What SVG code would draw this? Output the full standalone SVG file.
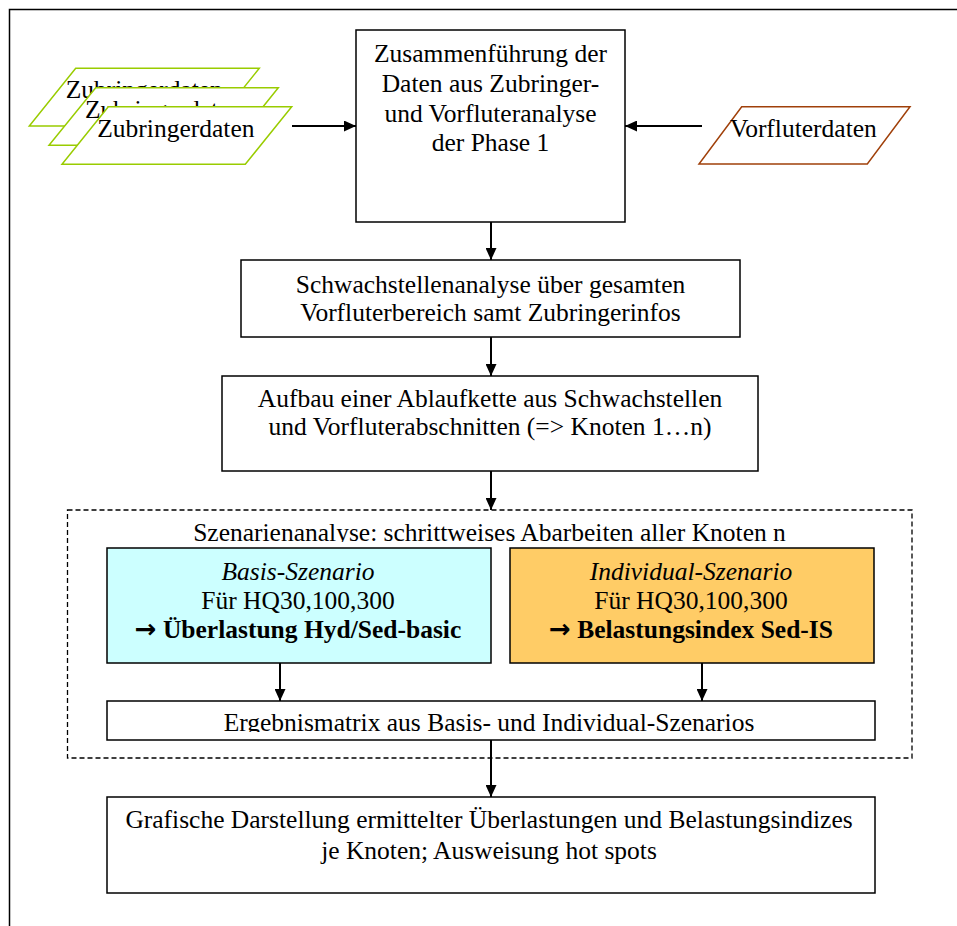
<svg xmlns="http://www.w3.org/2000/svg" width="957" height="926" viewBox="0 0 957 926">
<style>
  text { font-family: "Liberation Serif", "Times New Roman", serif; font-size: 25.5px; fill: #000; }
  .c { text-anchor: middle; }
  .box { fill: #fff; stroke: #000; stroke-width: 1.5; }
  .zub { fill: #fff; stroke: #99CC00; stroke-width: 1.5; }
  .vor { fill: #fff; stroke: #A0400A; stroke-width: 1.5; }
  .conn line { stroke: #000; stroke-width: 2; marker-end: url(#arr); }
  .it { font-style: italic; }
  .b { font-weight: bold; }
  .ar { font-family: "DejaVu Sans", sans-serif; font-weight: bold; font-size: 26px; }
</style>
<defs>
  <marker id="arr" markerUnits="userSpaceOnUse" markerWidth="12" markerHeight="11" refX="12" refY="5.5" orient="auto">
    <path d="M0,0 L12,5.5 L0,11 z" fill="#000"/>
  </marker>
  <clipPath id="clipErg"><rect x="107" y="701" width="768" height="31"/></clipPath>
  <clipPath id="clipSz"><rect x="67" y="510" width="845" height="32"/></clipPath>
</defs>
<rect width="957" height="926" fill="#fff"/>
<g id="frame">
  <path d="M9.5,926 L9.5,9.5 L957,9.5" fill="none" stroke="#000" stroke-width="1.5"/>
</g>
<g id="zubringer">
  <polygon class="zub" points="75.7,68.3 259.3,68.3 213,126 29.3,126"/>
  <text x="65.7" y="98.3" font-size="24.5">Zubringerdaten</text>
  <polygon class="zub" points="95.7,87.7 278.3,87.7 232,145.3 49,145.3"/>
  <text x="85" y="118.3" font-size="24.5">Zubringerdaten</text>
  <polygon class="zub" points="108.3,106.7 291.7,106.7 245.3,164.3 62,164.3"/>
  <text x="97.3" y="136.7" font-size="24.5">Zubringerdaten</text>
</g>
<g id="vorfluter">
  <polygon class="vor" points="741.7,106.7 910,106.7 867.3,164 699,164"/>
  <text x="730" y="137.3">Vorfluterdaten</text>
</g>
<g id="zusammen">
  <rect class="box" x="356" y="30" width="269" height="192"/>
  <text class="c" x="490.5" y="62">Zusammenführung der</text>
  <text class="c" x="490.5" y="92">Daten aus Zubringer-</text>
  <text class="c" x="490.5" y="121.5">und Vorfluteranalyse</text>
  <text class="c" x="490.5" y="151">der Phase 1</text>
</g>
<g id="schwach">
  <rect class="box" x="241" y="260" width="499" height="77"/>
  <text class="c" x="490.5" y="292.5">Schwachstellenanalyse über gesamten</text>
  <text class="c" x="490.5" y="321">Vorfluterbereich samt Zubringerinfos</text>
</g>
<g id="ablauf">
  <rect class="box" x="222" y="376" width="536" height="95"/>
  <text class="c" x="490" y="406.5">Aufbau einer Ablaufkette aus Schwachstellen</text>
  <text class="c" x="490" y="434.5">und Vorfluterabschnitten (=&gt; Knoten 1…n)</text>
</g>
<g id="szenarien">
  <rect x="67.5" y="510" width="844.5" height="248" fill="none" stroke="#000" stroke-width="1.3" stroke-dasharray="5,3"/>
  <text class="c" x="489.5" y="540.7" clip-path="url(#clipSz)">Szenarienanalyse: schrittweises Abarbeiten aller Knoten n</text>
</g>
<g id="basis">
  <rect x="107" y="548" width="384" height="115" fill="#CCFFFF" stroke="#000" stroke-width="1.5"/>
  <text class="c it" x="298" y="580">Basis-Szenario</text>
  <text class="c" x="298" y="609">Für HQ30,100,300</text>
  <text class="c b" x="298" y="638"><tspan class="ar">→</tspan>&#160;Überlastung Hyd/Sed-basic</text>
</g>
<g id="individual">
  <rect x="510" y="548" width="364" height="115" fill="#FFCC66" stroke="#000" stroke-width="1.5"/>
  <text class="c it" x="691" y="580">Individual-Szenario</text>
  <text class="c" x="691" y="609">Für HQ30,100,300</text>
  <text class="c b" x="691" y="638"><tspan class="ar">→</tspan>&#160;Belastungsindex Sed-IS</text>
</g>
<g id="ergebnis">
  <rect class="box" x="107" y="701" width="768" height="39"/>
  <text class="c" x="489" y="730.7" clip-path="url(#clipErg)">Ergebnismatrix aus Basis- und Individual-Szenarios</text>
</g>
<g id="grafik">
  <rect class="box" x="107" y="797" width="768" height="96"/>
  <text class="c" x="489" y="827.5">Grafische Darstellung ermittelter Überlastungen und Belastungsindizes</text>
  <text class="c" x="489" y="858.5">je Knoten; Ausweisung hot spots</text>
</g>
<g id="connectors" class="conn">
  <line x1="292" y1="126" x2="356" y2="126"/>
  <line x1="702" y1="126" x2="625" y2="126"/>
  <line x1="491" y1="222" x2="491" y2="260"/>
  <line x1="491" y1="337" x2="491" y2="376"/>
  <line x1="491" y1="471" x2="491" y2="510"/>
  <line x1="280" y1="663" x2="280" y2="701"/>
  <line x1="702" y1="663" x2="702" y2="701"/>
  <line x1="491" y1="740" x2="491" y2="797"/>
</g>
</svg>
